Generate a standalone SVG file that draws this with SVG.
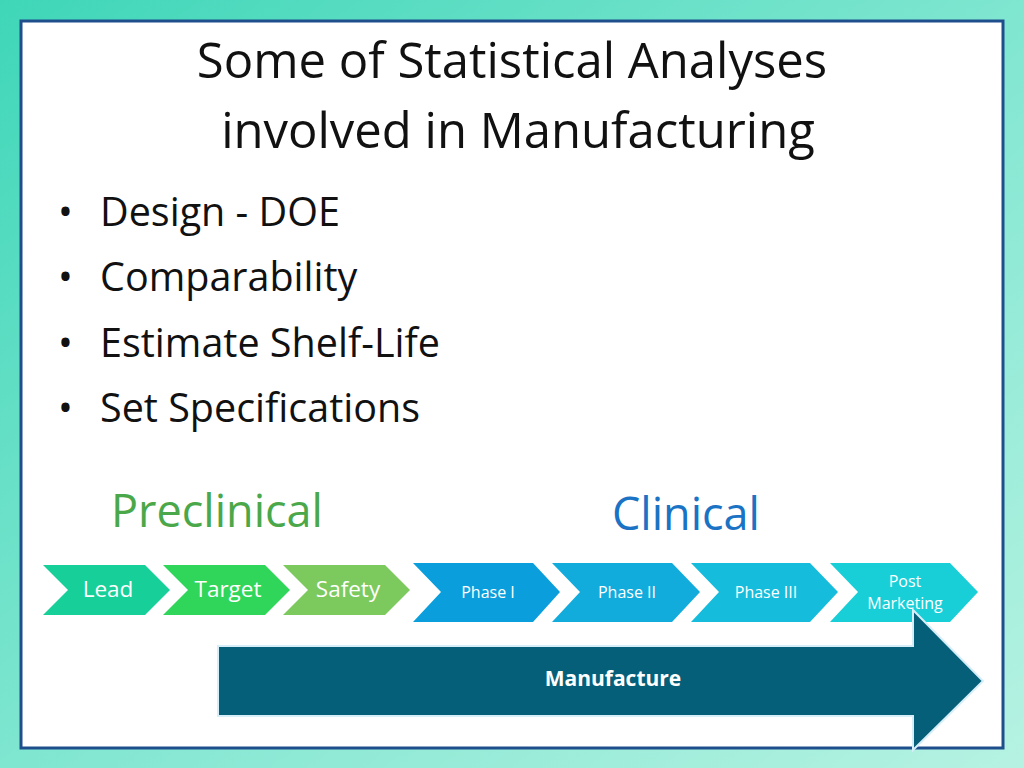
<svg xmlns="http://www.w3.org/2000/svg" width="1024" height="768" viewBox="0 0 1024 768">
<defs>
<linearGradient id="bg" x1="0" y1="0" x2="1" y2="1"><stop offset="0" stop-color="#3fd6b8"/><stop offset="0.5" stop-color="#7fe6d0"/><stop offset="1" stop-color="#b6f2e2"/></linearGradient>
<style>
text{font-family:"Open Sans","Noto Sans",sans-serif}
.w{fill:#fff;font-size:22.5px;text-anchor:middle}
.s{fill:#fff;font-size:16px;text-anchor:middle}
.b{font-size:39.5px;fill:#111}
</style>
</defs>
<rect width="1024" height="768" fill="url(#bg)"/>
<rect x="21" y="21" width="982" height="727" fill="#fff" stroke="#1f4e8c" stroke-width="3"/>
<text x="512" y="78" text-anchor="middle" font-size="49" fill="#111">Some of Statistical Analyses</text>
<text x="518" y="148" text-anchor="middle" font-size="49" fill="#111">involved in Manufacturing</text>
<g class="b">
<text x="58" y="226">•</text><text x="100" y="226">Design - DOE</text>
<text x="58" y="291">•</text><text x="100" y="291">Comparability</text>
<text x="58" y="357">•</text><text x="100" y="357">Estimate Shelf-Life</text>
<text x="58" y="422">•</text><text x="100" y="422">Set Specifications</text>
</g>
<text x="217" y="527" text-anchor="middle" font-size="45" fill="#4aa84a">Preclinical</text>
<text x="686" y="530" text-anchor="middle" font-size="45" fill="#1a73c4">Clinical</text>
<g id="lead"><polygon points="43,565 145,565 170,590 145,615 43,615 68,590" fill="#17cf98"/><text class="w" x="108" y="597">Lead</text></g>
<g id="target"><polygon points="163,565 265,565 290,590 265,615 163,615 188,590" fill="#30d65a"/><text class="w" x="228" y="597">Target</text></g>
<g id="safety"><polygon points="283,565 385,565 410,590 385,615 283,615 308,590" fill="#7cc95e"/><text class="w" x="348" y="597">Safety</text></g>
<g id="phase1"><polygon points="413,563 533,563 560,592 533,622 413,622 441,592" fill="#0a9fdc"/><text class="s" x="488" y="598">Phase I</text></g>
<g id="phase2"><polygon points="552,563 672,563 700,592 672,622 552,622 580,592" fill="#12acdc"/><text class="s" x="627" y="598">Phase II</text></g>
<g id="phase3"><polygon points="691,563 810,563 838,592 810,622 691,622 719,592" fill="#16bcdc"/><text class="s" x="766" y="598">Phase III</text></g>
<g id="post"><polygon points="830,563 950,563 978,592 950,622 830,622 858,592" fill="#18cfd8"/><text class="s" x="905" y="587">Post</text><text class="s" x="905" y="609">Marketing</text></g>
<g id="manufacture"><polygon points="218,646 913,646 913,610 983,681 913,750 913,716 218,716" fill="#065f78" stroke="#d6eef8" stroke-width="2"/><text x="613" y="686" text-anchor="middle" font-size="21" font-weight="bold" fill="#fff">Manufacture</text></g>
<g id="connectors"/>
</svg>
